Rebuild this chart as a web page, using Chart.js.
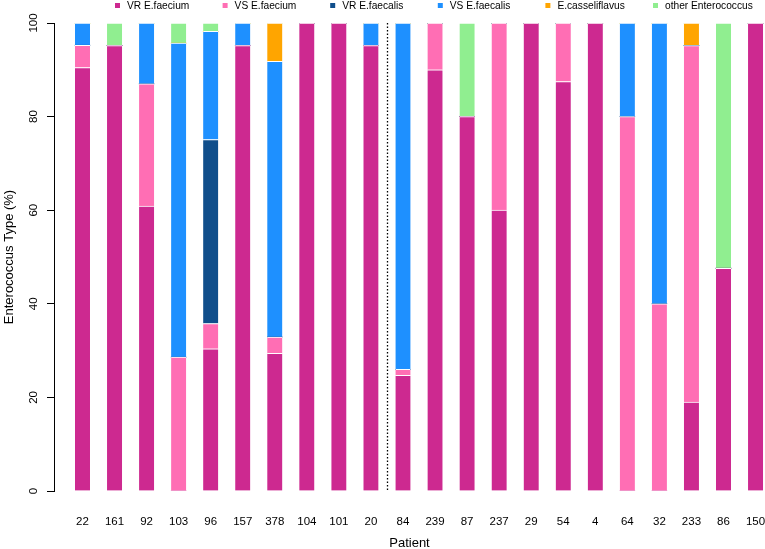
<!DOCTYPE html>
<html>
<head>
<meta charset="utf-8">
<script src="https://cdn.jsdelivr.net/npm/chart.js@4/dist/chart.umd.min.js"></script>
<style>
html,body{margin:0;padding:0;background:#fff;overflow:hidden;}
#wrap{width:765px;height:549px;}
</style>
</head>
<body>
<div id="wrap"><canvas id="c" width="765" height="549"></canvas></div>
<script>
// ---- data ----
const patients = ['22','161','92','103','96','157','378','104','101','20','84','239','87','237','29','54','4','64','32','233','86','150'];
const seriesNames = ['VR E.faecium','VS E.faecium','VR E.faecalis','VS E.faecalis','E.casseliflavus','other Enterococcus'];
const vrFaecium   = [90.5, 95.2, 60.9, 0,    30.4, 95.2, 29.4, 100, 100, 95.2, 24.7, 90, 80, 60, 100, 87.5, 100, 0,  0,  19.0, 47.6, 100];
const vsFaecium   = [4.75, 0,    26.1, 28.6, 5.4,  0,    3.5,  0,   0,   0,    1.3,  10, 0,  40, 0,   12.5, 0,   80, 40, 76.2, 0,    0];
const vrFaecalis  = [0,    0,    0,    0,    39.3, 0,    0,    0,   0,   0,    0,    0,  0,  0,  0,   0,    0,   0,  0,  0,    0,    0];
const vsFaecalis  = [4.75, 0,    13.0, 67.1, 23.1, 4.8,  58.9, 0,   0,   4.8,  74.0, 0,  0,  0,  0,   0,    0,   20, 60, 0,    0,    0];
const casseli     = [0,    0,    0,    0,    0,    0,    8.2,  0,   0,   0,    0,    0,  0,  0,  0,   0,    0,   0,  0,  4.8,  0,    0];
const otherEnt    = [0,    4.8,  0,    4.3,  1.8,  0,    0,    0,   0,   0,    0,    0,  20, 0,  0,   0,    0,   0,  0,  0,    52.4, 0];
const yTicks = [0, 20, 40, 60, 80, 100];
const dividerAfter = 9; // dotted separator between patient 20 and 84

const colors = ['#CD2990','#FF6EB4','#104E8B','#1E90FF','#FFA500','#90EE90'];
const seriesValues = [vrFaecium, vsFaecium, vrFaecalis, vsFaecalis, casseli, otherEnt];

const FONT = "'Liberation Sans', Arial, sans-serif";

const datasets = seriesValues.map((vals, k) => ({
  label: seriesNames[k],
  data: vals,
  backgroundColor: colors[k],
  borderColor: '#ffffff',
  borderWidth: {top: 1, left: 0, right: 0, bottom: 0},
  borderSkipped: false,
  barThickness: 15
}));

const legendPlugin = {
  id: 'rlegend',
  afterDraw(chart) {
    const ctx = chart.ctx;
    ctx.save();
    ctx.font = "10.2px " + FONT;
    ctx.textBaseline = 'middle';
    ctx.textAlign = 'left';
    chart.data.datasets.forEach((ds, i) => {
      const x0 = 115 + i * 107.6;
      ctx.fillStyle = ds.backgroundColor;
      ctx.fillRect(x0, 3, 5, 5);
      ctx.fillStyle = '#000';
      ctx.fillText(ds.label, x0 + 12, 6);
    });
    ctx.restore();
  }
};

const dividerPlugin = {
  id: 'divider',
  afterDatasetsDraw(chart) {
    const ctx = chart.ctx;
    const xs = chart.scales.x, ys = chart.scales.y;
    const x = Math.round(xs.getPixelForValue(dividerAfter + 0.5)) + 0.5;
    ctx.save();
    ctx.strokeStyle = '#000';
    ctx.lineWidth = 1.3;
    ctx.setLineDash([1.5, 2]);
    ctx.beginPath();
    ctx.moveTo(x, ys.getPixelForValue(100));
    ctx.lineTo(x, ys.getPixelForValue(0));
    ctx.stroke();
    ctx.restore();
  }
};

new Chart(document.getElementById('c'), {
  type: 'bar',
  data: { labels: patients.map((_, i) => i), datasets },
  options: {
    responsive: false,
    animation: false,
    devicePixelRatio: 1,
    layout: { padding: { top: 23, left: 0, right: 0, bottom: 0 } },
    plugins: { legend: { display: false }, tooltip: { enabled: false } },
    scales: {
      x: {
        type: 'linear',
        offset: false,
        stacked: true,
        min: -0.889,
        max: 21.295,
        grid: { display: false, offset: false },
        border: { display: false },
        afterBuildTicks(scale) { scale.ticks = patients.map((_, i) => ({ value: i })); },
        afterFit(scale) { scale.height = 58; scale.paddingLeft = 0; scale.paddingRight = 0; },
        ticks: {
          autoSkip: false,
          maxRotation: 0,
          minRotation: 0,
          padding: 16,
          color: '#000',
          font: { family: FONT, size: 11.5 },
          callback: (v) => patients[v] !== undefined ? patients[v] : ''
        },
        title: {
          display: true,
          text: 'Patient',
          color: '#000',
          font: { family: FONT, size: 13, lineHeight: 1 },
          padding: { top: 0, bottom: -1 }
        }
      },
      y: {
        stacked: true,
        min: 0,
        max: 100,
        afterBuildTicks(scale) { scale.ticks = yTicks.map(v => ({ value: v })); },
        afterFit(scale) { scale.width = 54; scale.paddingTop = 0; scale.paddingBottom = 0; },
        grid: { display: true, drawOnChartArea: false, drawTicks: true, tickLength: 7, color: '#000', lineWidth: 1 },
        border: { display: true, color: '#000', width: 1 },
        ticks: {
          minRotation: 90,
          maxRotation: 90,
          crossAlign: 'center',
          padding: 4,
          color: '#000',
          font: { family: FONT, size: 11.5 }
        },
        title: {
          display: true,
          text: 'Enterococcus Type (%)',
          color: '#000',
          font: { family: FONT, size: 13, lineHeight: 1 },
          padding: { top: 3, bottom: 0 }
        }
      }
    }
  },
  plugins: [legendPlugin, dividerPlugin]
});
</script>
</body>
</html>
